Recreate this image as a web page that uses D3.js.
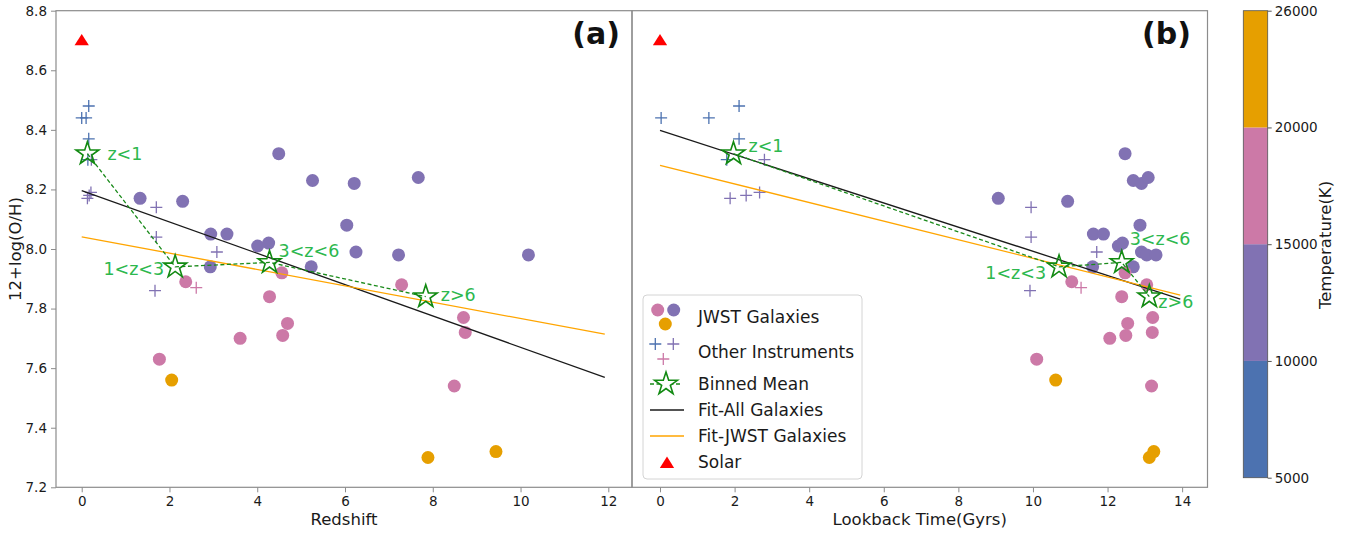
<!DOCTYPE html>
<html><head><meta charset="utf-8">
<script src="https://cdn.jsdelivr.net/npm/d3@7"></script>
<style>
body{margin:0;background:#fff;}
text{font-family:"DejaVu Sans","Liberation Sans",sans-serif;}
</style>
</head><body>
<svg id="c" width="1358" height="534"></svg>
<script>
// ---------------- DATA ----------------
// JWST galaxies
const jwstZ        = [1.33, 2.30, 2.94, 3.31, 4.01, 4.26, 4.49, 5.26, 2.93, 5.23, 6.21, 7.67, 6.04, 6.25, 7.22, 10.18,
                      2.37, 4.56, 4.28, 4.69, 4.58, 3.61, 1.77, 7.29, 8.70, 8.74, 8.49,
                      2.05, 7.89, 9.44];
const jwstLookback = [9.07, 10.93, 11.62, 11.89, 12.29, 12.40, 12.47, 12.69, 11.60, 12.69, 12.91, 13.09, 12.87, 12.91, 13.05, 13.30,
                      11.04, 12.47, 12.38, 12.54, 12.49, 12.06, 10.10, 13.05, 13.21, 13.20, 13.18,
                      10.61, 13.12, 13.24];
const jwstOH       = [8.17, 8.16, 8.05, 8.05, 8.01, 8.02, 8.32, 8.23, 7.94, 7.94, 8.22, 8.24, 8.08, 7.99, 7.98, 7.98,
                      7.89, 7.92, 7.84, 7.75, 7.71, 7.70, 7.63, 7.88, 7.77, 7.72, 7.54,
                      7.56, 7.30, 7.32];
const jwstTemp     = [12500, 12500, 12500, 12500, 12500, 12500, 12500, 12500, 12500, 12500, 12500, 12500, 12500, 12500, 12500, 12500,
                      17500, 17500, 17500, 17500, 17500, 17500, 17500, 17500, 17500, 17500, 17500,
                      23000, 23000, 23000];
// Other instruments
const otherZ        = [0.00, 0.10, 0.16, 0.16, 0.14, 0.13, 0.17, 0.21, 0.22, 1.70, 1.70, 3.08, 1.67, 2.61];
const otherLookback = [0.03, 1.31, 2.12, 2.12, 1.79, 1.88, 2.31, 2.67, 2.80, 9.95, 9.95, 11.71, 9.92, 11.29];
const otherOH       = [8.44, 8.44, 8.48, 8.37, 8.30, 8.17, 8.18, 8.19, 8.30, 8.14, 8.04, 7.99, 7.86, 7.87];
const otherTemp     = [8000, 8000, 8000, 8000, 8000, 12500, 12500, 12500, 12500, 12500, 12500, 12500, 12500, 17500];
// Binned means
const binLabels   = ["z<1", "1<z<3", "3<z<6", "z>6"];
const binZ        = [0.13, 2.13, 4.28, 7.84];
const binLookback = [1.97, 10.70, 12.38, 13.12];
const binOH       = [8.32, 7.94, 7.955, 7.84];
// Fits (endpoints)
const fitZ          = [0, 11.92];
const fitAllZ       = [8.196, 7.569];
const fitJwstZ      = [8.041, 7.714];
const fitLookback   = [0, 13.95];
const fitAllLook    = [8.398, 7.832];
const fitJwstLook   = [8.281, 7.845];
// Solar
const solarX = [0];
const solarOH = [8.70];
// Axis ticks
const yTicks = [7.2, 7.4, 7.6, 7.8, 8.0, 8.2, 8.4, 8.6, 8.8];
const zTicks = [0, 2, 4, 6, 8, 10, 12];
const lookTicks = [0, 2, 4, 6, 8, 10, 12, 14];
const cbTicks = [5000, 10000, 15000, 20000, 26000];
const cbColors = ["#4c72b0", "#8172b3", "#cc79a7", "#e69f00"];

// ---------------- LAYOUT ----------------
const svg = d3.select("#c");
const plotTop = 10.7, plotBottom = 487.3;
const panels = [
  {left: 56, right: 632, xDom: [-0.586, 12.54], xTicks: zTicks, xs: jwstZ, xo: otherZ, xb: binZ,
   fx: fitZ, fAll: fitAllZ, fJ: fitJwstZ, label: "Redshift", tag: "(a)", tagX: 620, showY: true,
   lblOff: [[20, 0], [-11, 2], [9, -12], [15, -2]]},
  {left: 632, right: 1207.5, xDom: [-0.751, 14.68], xTicks: lookTicks, xs: jwstLookback, xo: otherLookback, xb: binLookback,
   fx: fitLookback, fAll: fitAllLook, fJ: fitJwstLook, label: "Lookback Time(Gyrs)", tag: "(b)", tagX: 1191, showY: false,
   lblOff: [[15, -8], [-13, 6], [8, -24], [9, 5]]}
];
const y = d3.scaleLinear().domain([7.2, 8.8]).range([plotBottom, plotTop]);
const tempColor = d3.scaleThreshold().domain([10000, 15000, 20000]).range(cbColors);
const spine = "#8c8c8c";

function starPath(r) {
  const ri = r * 0.382, pts = [];
  for (let i = 0; i < 10; i++) {
    const a = -Math.PI / 2 + i * Math.PI / 5, rr = i % 2 ? ri : r;
    pts.push([rr * Math.cos(a), rr * Math.sin(a)]);
  }
  return "M" + pts.map(p => p[0].toFixed(2) + "," + p[1].toFixed(2)).join("L") + "Z";
}
function plusPath(s) { return `M${-s},0H${s}M0,${-s}V${s}`; }
function triPath(s) { return `M0,${-s}L${s*1.1},${s*0.75}L${-s*1.1},${s*0.75}Z`; }

panels.forEach(p => {
  const x = d3.scaleLinear().domain(p.xDom).range([p.left, p.right]);
  const g = svg.append("g");
  const clipId = "clip" + p.tag.replace(/[()]/g, "");
  svg.append("clipPath").attr("id", clipId).append("rect")
    .attr("x", p.left).attr("y", plotTop).attr("width", p.right - p.left).attr("height", plotBottom - plotTop);
  const pg = g.append("g").attr("clip-path", `url(#${clipId})`);

  // JWST dots
  pg.selectAll("circle.j").data(jwstOH).join("circle")
    .attr("cx", (d, i) => x(p.xs[i])).attr("cy", d => y(d)).attr("r", 6.5)
    .attr("fill", (d, i) => tempColor(jwstTemp[i]));
  // other instruments
  pg.selectAll("path.o").data(otherOH).join("path")
    .attr("transform", (d, i) => `translate(${x(p.xo[i])},${y(d)})`)
    .attr("d", plusPath(6)).attr("stroke", (d, i) => tempColor(otherTemp[i]))
    .attr("stroke-width", 1.3).attr("fill", "none");
  // fit lines
  const line = d3.line().x(d => x(d[0])).y(d => y(d[1]));
  pg.append("path").attr("d", line(p.fx.map((v, i) => [v, p.fAll[i]])))
    .attr("stroke", "#1a1a1a").attr("stroke-width", 1.3).attr("fill", "none");
  pg.append("path").attr("d", line(p.fx.map((v, i) => [v, p.fJ[i]])))
    .attr("stroke", "#ffa500").attr("stroke-width", 1.3).attr("fill", "none");
  // binned mean
  pg.append("path").attr("d", line(p.xb.map((v, i) => [v, binOH[i]])))
    .attr("stroke", "#1a8a1a").attr("stroke-width", 1.3).attr("stroke-dasharray", "4,2.5").attr("fill", "none");
  pg.selectAll("path.s").data(binOH).join("path")
    .attr("transform", (d, i) => `translate(${x(p.xb[i])},${y(d)})`)
    .attr("d", starPath(12)).attr("stroke", "#128a12").attr("stroke-width", 1.6).attr("fill", "none");
  // labels
  g.selectAll("text.b").data(binLabels).join("text")
    .attr("x", (d, i) => x(p.xb[i]) + p.lblOff[i][0])
    .attr("y", (d, i) => y(binOH[i]) + p.lblOff[i][1])
    .attr("dy", "0.35em")
    .attr("text-anchor", (d, i) => p.lblOff[i][0] < 0 ? "end" : "start")
    .attr("font-size", 17.5).attr("fill", "#2db84e").text(d => d);
  // solar
  pg.selectAll("path.sun").data(solarOH).join("path")
    .attr("transform", (d, i) => `translate(${x(solarX[i])},${y(d)})`)
    .attr("d", triPath(6.5)).attr("fill", "#ff0000");

  // spines
  g.append("rect").attr("x", p.left).attr("y", plotTop).attr("width", p.right - p.left).attr("height", plotBottom - plotTop)
    .attr("fill", "none").attr("stroke", spine).attr("stroke-width", 1.2);

  // x axis
  const xa = g.append("g").attr("transform", `translate(0,${plotBottom})`)
    .call(d3.axisBottom(x).tickValues(p.xTicks).tickFormat(d3.format("d")).tickSize(5).tickPadding(4));
  xa.select(".domain").remove();
  xa.selectAll("line").attr("stroke", spine);
  xa.selectAll("text").attr("font-size", 13.5).attr("fill", "#1a1a1a").attr("font-family", "DejaVu Sans");
  g.append("text").attr("x", (p.left + p.right) / 2).attr("y", 525).attr("text-anchor", "middle")
    .attr("font-size", 16.5).attr("fill", "#1a1a1a").text(p.label);

  if (p.showY) {
    const ya = g.append("g").attr("transform", `translate(${p.left},0)`)
      .call(d3.axisLeft(y).tickValues(yTicks).tickFormat(d3.format(".1f")).tickSize(5).tickPadding(4));
    ya.select(".domain").remove();
    ya.selectAll("line").attr("stroke", spine);
    ya.selectAll("text").attr("font-size", 13.5).attr("fill", "#1a1a1a").attr("font-family", "DejaVu Sans");
    g.append("text").attr("transform", `translate(21,${(plotTop + plotBottom) / 2}) rotate(-90)`)
      .attr("text-anchor", "middle").attr("font-size", 16.5).attr("fill", "#1a1a1a").text("12+log(O/H)");
  }
  // panel tag
  g.append("text").attr("x", p.tagX).attr("y", 44).attr("text-anchor", "end")
    .attr("font-size", 30).attr("font-weight", "bold").attr("fill", "#111").text(p.tag);
});

// ---------------- LEGEND ----------------
const lg = svg.append("g");
lg.append("rect").attr("x", 643).attr("y", 295).attr("width", 219).attr("height", 184).attr("rx", 4)
  .attr("fill", "#fff").attr("fill-opacity", 0.85).attr("stroke", "#d4d4d4");
const legendLabels = ["JWST Galaxies", "Other Instruments", "Binned Mean", "Fit-All Galaxies", "Fit-JWST Galaxies", "Solar"];
const legendY = [317, 352, 384, 410, 436, 462];
lg.selectAll("text").data(legendLabels).join("text")
  .attr("x", 698).attr("y", (d, i) => legendY[i]).attr("dy", "0.35em")
  .attr("font-size", 17).attr("fill", "#1a1a1a").text(d => d);
[[657.7, 310, 17500], [673.7, 310, 12500], [665.3, 324, 23000]].forEach(m =>
  lg.append("circle").attr("cx", m[0]).attr("cy", m[1]).attr("r", 6.5).attr("fill", tempColor(m[2])));
[[655.3, 344, 8000], [673.3, 344, 12500], [663.3, 359, 17500]].forEach(m =>
  lg.append("path").attr("transform", `translate(${m[0]},${m[1]})`).attr("d", plusPath(6))
    .attr("stroke", tempColor(m[2])).attr("stroke-width", 1.3).attr("fill", "none"));
lg.append("path").attr("d", "M650,384H682").attr("stroke", "#1a8a1a").attr("stroke-width", 1.3).attr("stroke-dasharray", "4,2.5");
lg.append("path").attr("transform", "translate(666,384)").attr("d", starPath(12)).attr("stroke", "#128a12")
  .attr("stroke-width", 1.6).attr("fill", "#fff");
lg.append("path").attr("d", "M650,410H684").attr("stroke", "#1a1a1a").attr("stroke-width", 1.3);
lg.append("path").attr("d", "M650,436H684").attr("stroke", "#ffa500").attr("stroke-width", 1.3);
lg.append("path").attr("transform", "translate(667,463)").attr("d", triPath(6.5)).attr("fill", "#ff0000");

// ---------------- COLORBAR ----------------
const cb = svg.append("g");
const cbScale = d3.scalePoint().domain(cbTicks).range([477.7, 10.7]);
cbTicks.slice(0, -1).forEach((t, i) => {
  cb.append("rect").attr("x", 1243.3).attr("width", 24.4)
    .attr("y", cbScale(cbTicks[i + 1])).attr("height", cbScale(t) - cbScale(cbTicks[i + 1]))
    .attr("fill", tempColor((t + cbTicks[i + 1]) / 2));
});
cb.append("rect").attr("x", 1243.3).attr("y", 10.7).attr("width", 24.4).attr("height", 467)
  .attr("fill", "none").attr("stroke", "#555").attr("stroke-width", 0.8);
const ca = cb.append("g").attr("transform", "translate(1267.7,0)")
  .call(d3.axisRight(cbScale).tickSize(4).tickPadding(3));
ca.select(".domain").remove();
ca.selectAll("line").attr("stroke", "#555");
ca.selectAll("text").attr("font-size", 13.5).attr("fill", "#1a1a1a").attr("font-family", "DejaVu Sans");
cb.append("text").attr("transform", "translate(1331,245) rotate(-90)").attr("text-anchor", "middle")
  .attr("font-size", 16.5).attr("fill", "#1a1a1a").text("Temperature(K)");
</script>
</body></html>
